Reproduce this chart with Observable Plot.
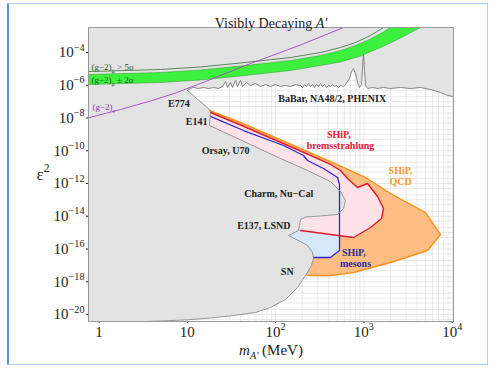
<!DOCTYPE html>
<html><head><meta charset="utf-8">
<script src="https://cdn.jsdelivr.net/npm/d3@7"></script>
<script src="https://cdn.jsdelivr.net/npm/@observablehq/plot@0.6"></script>
<style>
body{margin:0;background:#fff;}
#wrap{position:relative;width:499px;height:368px;overflow:hidden;}
#box{position:absolute;left:7px;top:3px;width:481px;height:362px;border:1px solid #b5cdef;border-left:2px solid #5d93dd;box-sizing:border-box;}
#chart{position:absolute;left:0;top:0;}
</style></head><body>
<div id="wrap"><div id="box"></div><div id="chart"></div></div>
<script>
// ---- data: [mass (MeV), epsilon^2] ----
const massTicks = [1, 10, 100, 1000, 10000];
const eps2Ticks = [1e-20, 1e-18, 1e-16, 1e-14, 1e-12, 1e-10, 1e-8, 1e-6, 1e-4];

const babar = [[10.05,4.78e-7],[10.87,6.33e-7],[11.75,7.29e-7],[13.39,6.33e-7],[15.26,7.29e-7],[17.38,6.33e-7],[19.81,7.29e-7],[22.56,6.33e-7],[25.03,8.39e-7],[27.08,1.69e-6],[28.53,7.29e-7],[30.85,1.47e-6],[32.51,7.29e-7],[35.15,1.95e-6],[37.03,8.39e-7],[40.05,1.95e-6],[42.19,8.39e-7],[46.82,1.47e-6],[51.96,9.65e-7],[59.22,1.28e-6],[67.45,8.39e-7],[76.86,1.11e-6],[87.53,8.39e-7],[99.7,1.11e-6],[113.6,8.39e-7],[129.4,9.65e-7],[147.5,8.39e-7],[168.1,1.11e-6],[191.4,9.65e-7],[201.6,7.29e-7],[212.5,1.11e-6],[223.8,8.39e-7],[235.9,1.28e-6],[248.5,8.39e-7],[261.8,1.11e-6],[275.8,7.29e-7],[290.5,1.11e-6],[306.1,8.39e-7],[322.5,1.28e-6],[339.7,8.39e-7],[357.9,1.11e-6],[377.1,7.29e-7],[397.2,9.65e-7],[418.6,8.39e-7],[441.0,1.11e-6],[464.5,8.39e-7],[489.4,9.65e-7],[515.6,7.29e-7],[543.3,9.65e-7],[587.5,8.39e-7],[618.9,1.11e-6],[686.9,2.58e-6],[723.8,6.92e-6],[762.4,1.05e-5],[803.4,5.22e-6],[846.4,1.47e-6],[891.9,7.29e-7],[939.4,1.11e-6],[964.0,1.05e-5],[989.7,1.0e-4],[1016,7.96e-6],[1043,9.65e-7],[1099,6.33e-7],[1252,7.29e-7],[1426,6.33e-7],[1667,7.29e-7],[2001,6.33e-7],[2597,7.29e-7],[3372,6.33e-7],[4375,7.29e-7],[5679,5.5e-7],[7372,3.61e-7],[8849,2.37e-7],[10340,2.06e-7]];

const beamDump = [[10.05,4.78e-7],[18.31,2.87e-8],[17.84,3.48e-9],[51.96,2.41e-10],[113.6,3.36e-11],[229.7,6.22e-12],[418.6,1.325e-12],[543.3,3.25e-13],[618.9,9.16e-14],[587.5,2.97e-14],[502.3,1.28e-14],[322.5,1.04e-14],[218.1,9.0e-15],[191.4,6.33e-15],[181.7,1.35e-15],[140,6.67e-16],[191.4,2.87e-16],[229.7,1.64e-16],[261.8,6.11e-17],[268.7,2.63e-17],[255.1,9.83e-18],[218.1,2.41e-18],[177.0,4.46e-19],[129.4,8.24e-20],[87.53,2.68e-20],[59.22,1.33e-20],[33.4,8.69e-21],[18.31,6.11e-21],[10.05,4.75e-21],[5.66,4.12e-21],[3.54,3.74e-21]];

const shipQCD = [[14.11,3.48e-9],[17.84,2.87e-8],[40.05,5.31e-9],[87.53,8.54e-10],[191.4,1.37e-10],[418.6,2.2e-11],[1043,2.33e-12],[2001,2.45e-13],[4985,1.69e-14],[7372,7.68e-16],[5253,8.1e-17],[2001,1.5e-17],[762.4,3.67e-18],[418.6,2.41e-18],[229.7,2.41e-18],[168.1,2.09e-18],[113.6,5.5e-15]];
const shipBrems = [[14.11,1.72e-9],[18.31,2.17e-8],[40.05,3.74e-9],[87.53,6.0e-10],[191.4,9.65e-11],[418.6,1.45e-11],[543.3,6.22e-12],[652.1,2.02e-12],[846.4,5.7e-13],[1099,1.0e-12],[1426,1.61e-13],[1667,2.97e-14],[1582,7.29e-15],[1188,2.06e-15],[762.4,5.04e-16],[191.4,1.35e-15],[147.5,1.55e-15],[67.45,3.74e-13]];
const shipMesons = [[14.11,1.13e-9],[18.31,1.24e-8],[43.3,1.72e-9],[122.9,2.09e-10],[159.5,1.04e-10],[207,5.13e-11],[229.7,2.54e-11],[348.7,8.24e-12],[502.3,2.33e-12],[529.2,8.69e-13],[529.2,8.1e-17],[476.9,5.31e-17],[418.6,3.03e-17],[268.7,3.03e-17],[191.4,8.1e-17],[67.45,9.16e-14]];

const g2muTop = [[0.76,4.54e-6],[4.97,6.0e-6],[14.11,8.54e-6],[40.05,1.50e-5],[147.5,3.25e-5],[322.5,6.56e-5],[543.3,1.33e-4],[803.4,2.68e-4],[1188,6.67e-4],[1624,1.665e-3],[2001,3.363e-3]];
const g2muBottom = [[0.76,1.11e-6],[4.97,1.47e-6],[14.11,2.09e-6],[40.05,3.67e-6],[147.5,7.96e-6],[322.5,1.61e-5],[543.3,2.63e-5],[915.3,6.11e-5],[1542,2.02e-4],[2597,7.68e-4],[3551,1.92e-3],[4375,3.363e-3]];
const g2mu5sigma = [[0.76,6.92e-6],[4.97,9.16e-6],[14.11,1.30e-5],[40.05,2.29e-5],[147.5,4.95e-5],[322.5,1.0e-4],[543.3,2.02e-4],[803.4,4.08e-4],[1188,1.09e-3],[1667,3.363e-3]];
const g2e = [[0.76,1.03e-8],[1.752,3.31e-8],[3.83,1.09e-7],[7.35,3.36e-7],[14.11,1.28e-6],[27.08,5.22e-6],[51.96,2.13e-5],[191.4,2.87e-4],[587.5,3.363e-3]];

const regionLabels = [
  {label:"E774", m:8.01, e:7.36e-8},
  {label:"Orsay, U70", m:27.08, e:1.035e-10},
  {label:"BaBar, NA48/2, PHENIX", m:437.5, e:1.49e-7},
  {label:"Charm, Nu\u2212Cal", m:108.7, e:2.35e-13},
  {label:"E137, LSND", m:73.5, e:2.72e-15},
  {label:"SN", m:135.3, e:3.83e-18}
];
const e141Label = [{label:"E141", m:16.93, e:6.11e-9}];
const shipLabels = [
  {label:"SHiP,", m:519.6, e:9.83e-10, c:"#e31a2c"},
  {label:"bremsstrahlung", m:543.3, e:2.09e-10, c:"#e31a2c"},
  {label:"SHiP,", m:2597, e:6.22e-12, c:"#f39a38"},
  {label:"QCD", m:2597, e:1.2e-12, c:"#f39a38"},
  {label:"SHiP,", m:768.5, e:5.9e-17, c:"#2c2ca0"},
  {label:"mesons", m:803.4, e:1.2e-17, c:"#2c2ca0"}
];
const g2Labels = [
  {label:"(g\u22122)_{\u03bc} > 5\u03c3", m:0.822, e:1.27e-5, c:"#1f5a1f"},
  {label:"(g\u22122)_{\u03bc} \u00b1 2\u03c3", m:0.822, e:2.09e-6, c:"#1f5a1f"},
  {label:"(g\u22122)_{e}", m:0.844, e:4.70e-8, c:"#9a36bc"}
];
const titleText = "Visibly Decaying ~{A'}";
const xLabel = "~{m}%{A'} (MeV)";
const yLabel = "\u03b5^{2}";

// grid values (log grid)
const gridM = [];
for (let p = -1; p <= 4; p++) for (let k = 1; k <= 9; k++) { const v = k * Math.pow(10, p); if (v >= 0.76 && v <= 10340) gridM.push(v); }
const gridE = [];
for (let p = -21; p <= -3; p++) for (const k of [1, 2, 5]) { const v = k * Math.pow(10, p); if (v >= 3.74e-21 && v <= 3.363e-3) gridE.push(v); }

const grey = [[0.76,3.363e-3],[10340,3.363e-3], ...babar.slice().reverse(), ...beamDump.slice(1), [0.76,3.74e-21]];
const band = [...g2muTop, ...g2muBottom.slice().reverse()];

const xy = {x: d => d[0], y: d => d[1]};
const F = "'Liberation Serif', 'Times New Roman', serif";
const sup = n => "10^{" + String(Math.round(Math.log10(n))).replace("-", "\u2212") + "}";

const plot = Plot.plot({
  width: 499, height: 368,
  marginLeft: 88, marginRight: 46, marginTop: 27, marginBottom: 47,
  style: {background: "transparent", fontFamily: F, fontSize: "15px", color: "#222"},
  color: {type: "identity"},
  x: {type: "log", domain: [0.76, 10340], ticks: massTicks, tickFormat: d => d < 100 ? String(d) : sup(d), tickSize: 2, tickPadding: 3, label: null},
  y: {type: "log", domain: [3.74e-21, 3.363e-3], ticks: eps2Ticks, tickFormat: sup, tickSize: 2, tickPadding: 2, label: null},
  marks: [
    Plot.ruleX(gridM, {stroke: "#dcdcdc", strokeWidth: 0.6}),
    Plot.ruleY(gridE, {stroke: "#dcdcdc", strokeWidth: 0.6}),
    Plot.line(shipQCD, {...xy, fill: "#fdbd83", stroke: "none"}),
    Plot.line(shipMesons, {...xy, fill: "#d5e7f8", stroke: "none"}),
    Plot.line(shipBrems, {...xy, fill: "#fde3e8", stroke: "none"}),
    Plot.line(grey, {...xy, fill: "#e3e3e3", stroke: "none"}),
    Plot.line(shipQCD.slice(1, -2), {...xy, stroke: "#f7931e", strokeWidth: 1.4}),
    Plot.line(shipBrems.slice(1, -2), {...xy, stroke: "#e31a2c", strokeWidth: 1.4}),
    Plot.line(shipMesons.slice(1, -2), {...xy, stroke: "#2a2ad0", strokeWidth: 1.3}),
    Plot.line(beamDump, {...xy, stroke: "#8c8c8c", strokeWidth: 0.9}),
    Plot.line(babar, {...xy, stroke: "#6a6a6a", strokeWidth: 0.8}),
    Plot.line(band, {...xy, fill: "#3ef03e", stroke: "none"}),
    Plot.line(g2muTop, {...xy, stroke: "#2c9a2c", strokeWidth: 0.5}),
    Plot.line(g2muBottom, {...xy, stroke: "#2c9a2c", strokeWidth: 0.5}),
    Plot.line(g2mu5sigma, {...xy, stroke: "#3b6e3b", strokeWidth: 0.8}),
    Plot.line(g2e, {...xy, stroke: "#a444c4", strokeWidth: 0.9}),
    Plot.frame({stroke: "#999"}),
    Plot.text(regionLabels, {x: "m", y: "e", text: "label", fontSize: 10, fontWeight: "bold", fill: "#222"}),
    Plot.text(e141Label, {x: "m", y: "e", text: "label", fontSize: 10, fontWeight: "bold", fill: "#222", textAnchor: "end"}),
    Plot.text(shipLabels, {x: "m", y: "e", text: "label", fontSize: 10, fontWeight: "bold", fill: "c"}),
    Plot.text(g2Labels, {x: "m", y: "e", text: "label", fontSize: 9, fill: "c", textAnchor: "start"}),
    Plot.text([titleText], {text: d => d, frameAnchor: "top", dy: -9, fontSize: 14, fill: "#222"}),
    Plot.text([xLabel], {text: d => d, frameAnchor: "bottom", dy: 33, fontSize: 15, fill: "#222"}),
    Plot.text([yLabel], {text: d => d, frameAnchor: "left", dx: -52, fontSize: 17, fill: "#222"})
  ]
});
document.getElementById("chart").appendChild(plot);

// turn simple markup (_{sub} ^{sup} ~{italic} %{italic sub}) into tspans
function richify(svg) {
  const re = /([_^~%])\{([^}]*)\}/g;
  svg.querySelectorAll("text").forEach(t => {
    if (t.children.length) return;
    const s = t.textContent;
    if (!/[_^~%]\{/.test(s)) return;
    const fs = parseFloat(getComputedStyle(t).fontSize) || 14;
    const parts = []; let last = 0; let m;
    re.lastIndex = 0;
    while ((m = re.exec(s))) {
      if (m.index > last) parts.push(["", s.slice(last, m.index)]);
      parts.push([m[1], m[2]]);
      last = m.index + m[0].length;
    }
    if (last < s.length) parts.push(["", s.slice(last)]);
    t.textContent = "";
    let shift = 0;
    for (const [k, c] of parts) {
      const ts = document.createElementNS("http://www.w3.org/2000/svg", "tspan");
      const target = (k === "_" || k === "%") ? 0.3 * fs : k === "^" ? -0.45 * fs : 0;
      if (target !== shift) ts.setAttribute("dy", (target - shift).toFixed(2));
      shift = target;
      if (k === "_" || k === "^" || k === "%") ts.setAttribute("font-size", (0.68 * fs).toFixed(2));
      if (k === "~" || k === "%") ts.setAttribute("font-style", "italic");
      ts.textContent = c;
      t.appendChild(ts);
    }
  });
}
richify(plot);
</script></body></html>
